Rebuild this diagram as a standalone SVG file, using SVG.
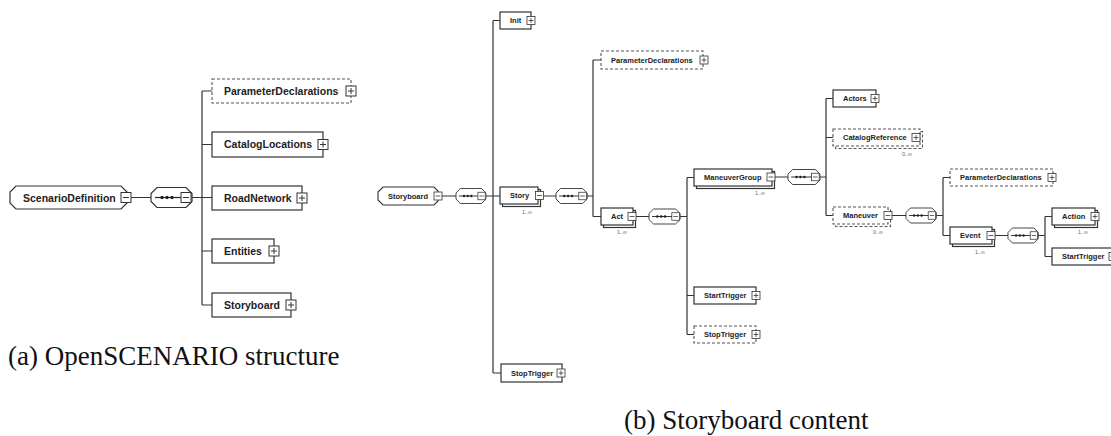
<svg xmlns="http://www.w3.org/2000/svg" width="1111" height="436" viewBox="0 0 1111 436">
<style>
.bx{fill:#fff;stroke:#333;stroke-width:1.2}
.dbx{fill:#fff;stroke:#555;stroke-width:1.1;stroke-dasharray:3 2}
.ln{fill:none;stroke:#333;stroke-width:1.2}
.tL{font-family:"Liberation Sans",Arial,sans-serif;font-weight:bold;font-size:10.5px;fill:#222}
.tS{font-family:"Liberation Sans",Arial,sans-serif;font-weight:bold;font-size:7.5px;fill:#222}
.m{font-family:"Liberation Sans",Arial,sans-serif;font-size:5.5px;fill:#666;text-anchor:middle}
.cap{font-family:"Liberation Serif","Times New Roman",serif;font-size:27px;fill:#111}
</style>
<defs>
<g id="plus"><rect x="0" y="0" width="10" height="10" fill="#fff" stroke="#333" stroke-width="1"/><path d="M2,5H8M5,2V8" stroke="#333" stroke-width="1"/></g>
<g id="minus"><rect x="0" y="0" width="10" height="10" fill="#fff" stroke="#333" stroke-width="1"/><path d="M2,5H8" stroke="#333" stroke-width="1"/></g>
<g id="seq"><path d="M6,0H35L41,6V14L35,20H6L0,14V6Z" fill="#fff" stroke="#333" stroke-width="1.2"/><path d="M4,10H31" stroke="#222" stroke-width="1.2"/><circle cx="11" cy="10" r="1.7" fill="#222"/><circle cx="16" cy="10" r="1.7" fill="#222"/><circle cx="21" cy="10" r="1.7" fill="#222"/><use href="#minus" x="30" y="5"/></g>
</defs>

<g id="connectors">
<path class="ln" d="M131,197.5H151M192,197.5H202M202,91V305M202,91H212M202,144.5H212M202,197.5H212M202,251H212M202,305H212"/>
<path class="ln" d="M442,196H456M485,196H493M493,20.5V373M493,20.5H500M493,196H500M493,373H501"/>
<path class="ln" d="M543,196H556M587,196H593M593,60V216.5M593,60H601M593,216.5H601"/>
<path class="ln" d="M635,216.5H649M680,216.5H687M687,177.5V334.5M687,177.5H694M687,295.5H694M687,334.5H694"/>
<path class="ln" d="M775,177H788M820,177H826M826,98.5V215.5M826,98.5H833M826,137.5H833M826,215.5H833"/>
<path class="ln" d="M892,215.5H906M936,215.5H943M943,177.5V235.5M943,177.5H950M943,235.5H950"/>
<path class="ln" d="M995,235.5H1008M1038,235.5H1045M1045,216.5V256.5M1045,216.5H1052M1045,256.5H1052"/>
</g>

<!-- Left: OpenSCENARIO structure -->
<g id="ScenarioDefinition">
<path d="M16,186H121L127,192V203L121,209H16L10,203V192Z" fill="#fff" stroke="#333" stroke-width="1.2"/>
<text class="tL" x="23" y="201.5">ScenarioDefinition</text>
<use href="#minus" x="121" y="192.5"/>
</g>
<g id="seqA"><use href="#seq" x="151" y="187.5"/></g>
<g id="ParameterDeclarationsA"><rect class="dbx" x="212" y="79" width="139" height="24"/><text class="tL" x="224" y="94.5">ParameterDeclarations</text><use href="#plus" x="346" y="86"/></g>
<g id="CatalogLocations"><rect class="bx" x="212" y="132" width="111" height="25"/><text class="tL" x="224" y="148">CatalogLocations</text><use href="#plus" x="318" y="139.5"/></g>
<g id="RoadNetwork"><rect class="bx" x="212" y="186" width="90" height="24"/><text class="tL" x="224" y="201.5">RoadNetwork</text><use href="#plus" x="297" y="193"/></g>
<g id="Entities"><rect class="bx" x="212" y="239" width="62" height="24"/><text class="tL" x="224" y="254.5">Entities</text><use href="#plus" x="269" y="246"/></g>
<g id="StoryboardA"><rect class="bx" x="212" y="293" width="79" height="24"/><text class="tL" x="224" y="308.5">Storyboard</text><use href="#plus" x="286" y="300"/></g>

<!-- Right: Storyboard content -->
<g id="Storyboard">
<path d="M383,187H434L438,191V201L434,205H383L378,200V192Z" fill="#fff" stroke="#333" stroke-width="1.1"/>
<text class="tS" x="388" y="198.7">Storyboard</text>
<use href="#minus" transform="translate(434,192) scale(0.8)"/>
</g>
<g id="seqSB"><use href="#seq" transform="translate(456,188.5) scale(0.73,0.75)"/></g>
<g id="Init"><rect class="bx" x="500" y="12" width="31" height="17"/><text class="tS" x="510" y="23.2">Init</text><use href="#plus" transform="translate(527,16.5) scale(0.8)"/></g>
<g id="Story"><rect class="bx" x="502.5" y="189.5" width="38" height="17"/><rect class="bx" x="500" y="187" width="38" height="17"/><text class="tS" x="510" y="198.2">Story</text><use href="#minus" transform="translate(535.5,191.5) scale(0.8)"/><text class="m" x="527" y="214">1..∞</text></g>
<g id="StopTriggerSB"><rect class="bx" x="501" y="364" width="61" height="18"/><text class="tS" x="511" y="375.7">StopTrigger</text><use href="#plus" transform="translate(557,369) scale(0.8)"/></g>
<g id="seqStory"><use href="#seq" transform="translate(556,188.5) scale(0.76,0.75)"/></g>
<g id="ParameterDeclarationsStory"><rect class="dbx" x="601" y="51" width="102" height="18"/><text class="tS" x="611" y="62.7">ParameterDeclarations</text><use href="#plus" transform="translate(700,56) scale(0.8)"/></g>
<g id="Act"><rect class="bx" x="603.5" y="210.5" width="32" height="17"/><rect class="bx" x="601" y="208" width="32" height="17"/><text class="tS" x="611" y="219.2">Act</text><use href="#minus" transform="translate(628,212.5) scale(0.8)"/><text class="m" x="622" y="234">1..∞</text></g>
<g id="seqAct"><use href="#seq" transform="translate(649,209) scale(0.76,0.75)"/></g>
<g id="ManeuverGroup"><rect class="bx" x="696.5" y="171.5" width="78" height="17"/><rect class="bx" x="694" y="169" width="78" height="17"/><text class="tS" x="704" y="180.2">ManeuverGroup</text><use href="#minus" transform="translate(767,173) scale(0.8)"/><text class="m" x="760" y="195">1..∞</text></g>
<g id="StartTriggerAct"><rect class="bx" x="694" y="287" width="62" height="17"/><text class="tS" x="704" y="298.2">StartTrigger</text><use href="#plus" transform="translate(752,291.5) scale(0.8)"/></g>
<g id="StopTriggerAct"><rect class="dbx" x="694" y="326" width="62" height="17"/><text class="tS" x="704" y="337.2">StopTrigger</text><use href="#plus" transform="translate(752,330.5) scale(0.8)"/></g>
<g id="seqMG"><use href="#seq" transform="translate(788,169.5) scale(0.78,0.75)"/></g>
<g id="Actors"><rect class="bx" x="833" y="90" width="43" height="17"/><text class="tS" x="843" y="101.2">Actors</text><use href="#plus" transform="translate(871,94.5) scale(0.8)"/></g>
<g id="CatalogReference"><rect class="dbx" x="835.5" y="131.5" width="87" height="17"/><rect class="dbx" x="833" y="129" width="87" height="17"/><text class="tS" x="843" y="140.2">CatalogReference</text><use href="#plus" transform="translate(912,133.5) scale(0.8)"/><text class="m" x="907" y="156">0..∞</text></g>
<g id="Maneuver"><rect class="dbx" x="835.5" y="209.5" width="55" height="17"/><rect class="dbx" x="833" y="207" width="55" height="17"/><text class="tS" x="843" y="218.2">Maneuver</text><use href="#minus" transform="translate(884,211.5) scale(0.8)"/><text class="m" x="878" y="234">0..∞</text></g>
<g id="seqManeuver"><use href="#seq" transform="translate(906,208) scale(0.74,0.75)"/></g>
<g id="ParameterDeclarationsManeuver"><rect class="dbx" x="950" y="169" width="103" height="17"/><text class="tS" x="960" y="180.2">ParameterDeclarations</text><use href="#plus" transform="translate(1048,173.5) scale(0.8)"/></g>
<g id="Event"><rect class="bx" x="952.5" y="229.5" width="42" height="17"/><rect class="bx" x="950" y="227" width="42" height="17"/><text class="tS" x="960" y="238.2">Event</text><use href="#minus" transform="translate(987,231.5) scale(0.8)"/><text class="m" x="980" y="254">1..∞</text></g>
<g id="seqEvent"><use href="#seq" transform="translate(1008,228) scale(0.74,0.75)"/></g>
<g id="Action"><rect class="bx" x="1054.5" y="210.5" width="43" height="17"/><rect class="bx" x="1052" y="208" width="43" height="17"/><text class="tS" x="1062" y="219.2">Action</text><use href="#plus" transform="translate(1091,212.5) scale(0.8)"/><text class="m" x="1083" y="234">1..∞</text></g>
<g id="StartTriggerEvent"><rect class="bx" x="1052" y="248" width="62" height="17"/><text class="tS" x="1062" y="259.2">StartTrigger</text><use href="#plus" transform="translate(1109,252.5) scale(0.8)"/></g>

<g id="captions">
<text class="cap" x="8" y="365">(a) OpenSCENARIO structure</text>
<text class="cap" x="624" y="429">(b) Storyboard content</text>
</g>
</svg>
